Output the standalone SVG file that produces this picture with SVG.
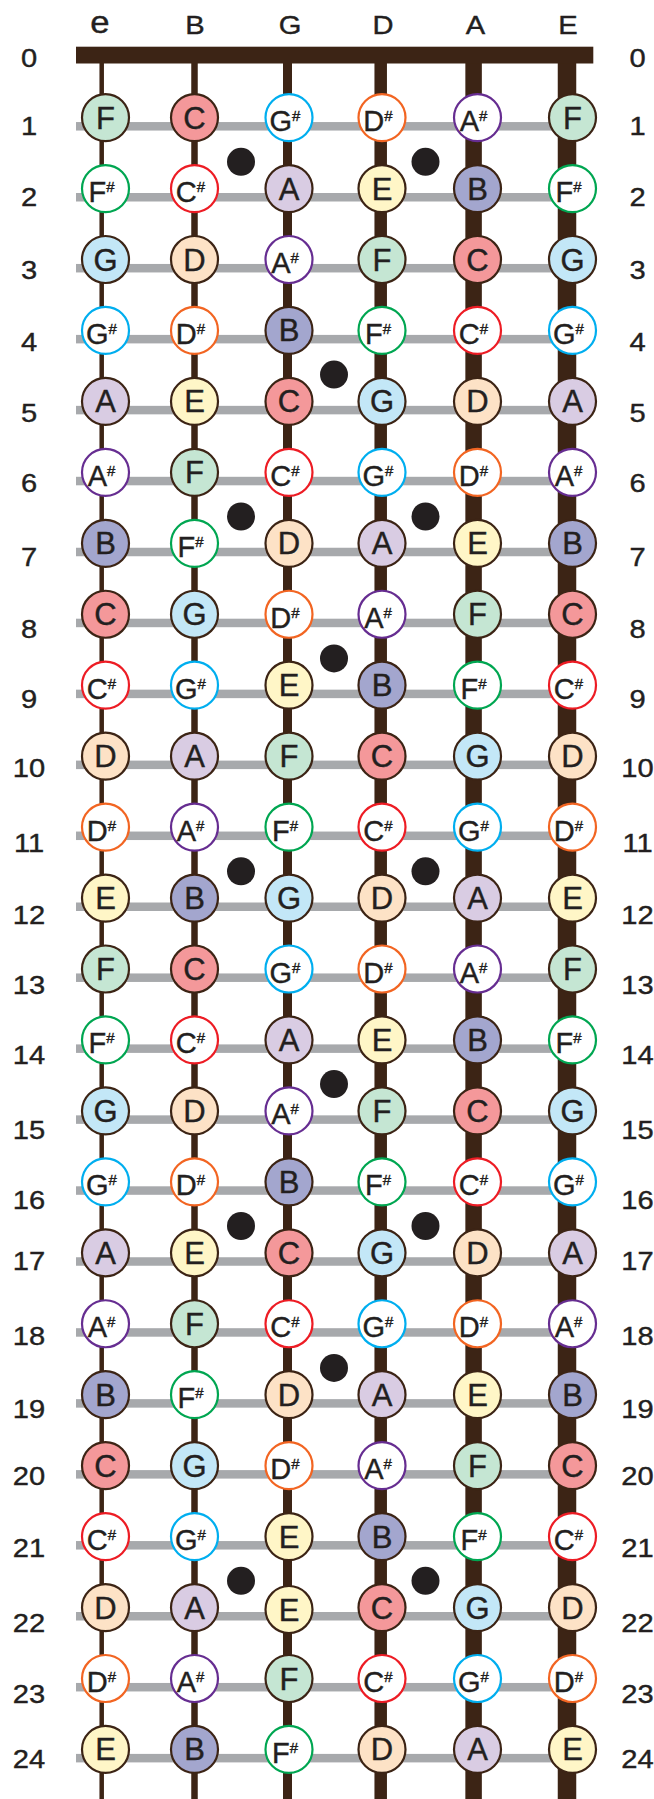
<svg xmlns="http://www.w3.org/2000/svg" width="654" height="1799" viewBox="0 0 654 1799">
<style>
.k{stroke-width:2.2px}
.nC{fill:#f4989a;stroke:#3c2415}
.nD{fill:#fde2c6;stroke:#3c2415}
.nE{fill:#fff6c7;stroke:#3c2415}
.nF{fill:#c5e6d3;stroke:#3c2415}
.nG{fill:#c3e7f7;stroke:#3c2415}
.nA{fill:#d9cce3;stroke:#3c2415}
.nB{fill:#a3a6ce;stroke:#3c2415}
.sC{fill:#fff;stroke:#ed1c24}
.sD{fill:#fff;stroke:#f26522}
.sF{fill:#fff;stroke:#00a651}
.sG{fill:#fff;stroke:#00aeef}
.sA{fill:#fff;stroke:#662d91}
.t,.u,.lab{font-family:"Liberation Sans",Arial,sans-serif;fill:#231f20;stroke:#231f20;stroke-width:0.4px;text-anchor:middle}
.t{font-size:31px}
.u{font-size:29px}
.h{font-size:15px}
.lab{font-size:26px;transform-box:fill-box;transform-origin:center;transform:scale(1.12,1)}
.le{font-size:31px}
</style>
<defs>
<circle id="c" r="23.5"/>
</defs>
<g id="labels">
<text class="lab le" x="100" y="33.5">e</text>
<text class="lab" x="195" y="34">B</text>
<text class="lab" x="290" y="34">G</text>
<text class="lab" x="383" y="34">D</text>
<text class="lab" x="475.5" y="34">A</text>
<text class="lab" x="568" y="34">E</text>
<text class="lab" x="29" y="67">0</text><text class="lab" x="637.5" y="67">0</text>
<text class="lab" x="29" y="135">1</text><text class="lab" x="637.5" y="135">1</text>
<text class="lab" x="29" y="206.5">2</text><text class="lab" x="637.5" y="206.5">2</text>
<text class="lab" x="29" y="279.5">3</text><text class="lab" x="637.5" y="279.5">3</text>
<text class="lab" x="29" y="351">4</text><text class="lab" x="637.5" y="351">4</text>
<text class="lab" x="29" y="422">5</text><text class="lab" x="637.5" y="422">5</text>
<text class="lab" x="29" y="492.5">6</text><text class="lab" x="637.5" y="492.5">6</text>
<text class="lab" x="29" y="566.5">7</text><text class="lab" x="637.5" y="566.5">7</text>
<text class="lab" x="29" y="638">8</text><text class="lab" x="637.5" y="638">8</text>
<text class="lab" x="29" y="708">9</text><text class="lab" x="637.5" y="708">9</text>
<text class="lab" x="29" y="777.5">10</text><text class="lab" x="637.5" y="777.5">10</text>
<text class="lab" x="29" y="852.5">11</text><text class="lab" x="637.5" y="852.5">11</text>
<text class="lab" x="29" y="924">12</text><text class="lab" x="637.5" y="924">12</text>
<text class="lab" x="29" y="994">13</text><text class="lab" x="637.5" y="994">13</text>
<text class="lab" x="29" y="1064">14</text><text class="lab" x="637.5" y="1064">14</text>
<text class="lab" x="29" y="1139.5">15</text><text class="lab" x="637.5" y="1139.5">15</text>
<text class="lab" x="29" y="1209.5">16</text><text class="lab" x="637.5" y="1209.5">16</text>
<text class="lab" x="29" y="1270.5">17</text><text class="lab" x="637.5" y="1270.5">17</text>
<text class="lab" x="29" y="1345.5">18</text><text class="lab" x="637.5" y="1345.5">18</text>
<text class="lab" x="29" y="1418">19</text><text class="lab" x="637.5" y="1418">19</text>
<text class="lab" x="29" y="1485.5">20</text><text class="lab" x="637.5" y="1485.5">20</text>
<text class="lab" x="29" y="1557.5">21</text><text class="lab" x="637.5" y="1557.5">21</text>
<text class="lab" x="29" y="1632.5">22</text><text class="lab" x="637.5" y="1632.5">22</text>
<text class="lab" x="29" y="1703">23</text><text class="lab" x="637.5" y="1703">23</text>
<text class="lab" x="29" y="1768">24</text><text class="lab" x="637.5" y="1768">24</text>
</g>
<g id="frets" fill="#a7a9ac">
<rect x="76" y="122.05" width="517" height="8.5"/>
<rect x="76" y="193" width="517" height="8.5"/>
<rect x="76" y="263.95" width="517" height="8.5"/>
<rect x="76" y="334.9" width="517" height="8.5"/>
<rect x="76" y="405.85" width="517" height="8.5"/>
<rect x="76" y="476.8" width="517" height="8.5"/>
<rect x="76" y="547.75" width="517" height="8.5"/>
<rect x="76" y="618.7" width="517" height="8.5"/>
<rect x="76" y="689.65" width="517" height="8.5"/>
<rect x="76" y="760.6" width="517" height="8.5"/>
<rect x="76" y="831.55" width="517" height="8.5"/>
<rect x="76" y="902.5" width="517" height="8.5"/>
<rect x="76" y="973.45" width="517" height="8.5"/>
<rect x="76" y="1044.4" width="517" height="8.5"/>
<rect x="76" y="1115.35" width="517" height="8.5"/>
<rect x="76" y="1186.3" width="517" height="8.5"/>
<rect x="76" y="1257.25" width="517" height="8.5"/>
<rect x="76" y="1328.2" width="517" height="8.5"/>
<rect x="76" y="1399.15" width="517" height="8.5"/>
<rect x="76" y="1470.1" width="517" height="8.5"/>
<rect x="76" y="1541.05" width="517" height="8.5"/>
<rect x="76" y="1612" width="517" height="8.5"/>
<rect x="76" y="1682.95" width="517" height="8.5"/>
<rect x="76" y="1753.9" width="517" height="8.5"/>
</g>
<g id="strings" stroke="#3c2415">
<line x1="101.7" y1="60" x2="101.7" y2="1799" stroke-width="4.5"/>
<line x1="194.5" y1="60" x2="194.5" y2="1799" stroke-width="6.5"/>
<line x1="287.5" y1="60" x2="287.5" y2="1799" stroke-width="9"/>
<line x1="380.7" y1="60" x2="380.7" y2="1799" stroke-width="12.5"/>
<line x1="473.6" y1="60" x2="473.6" y2="1799" stroke-width="16.5"/>
<line x1="567" y1="60" x2="567" y2="1799" stroke-width="18.5"/>
</g>
<rect id="nut" x="76" y="46.7" width="517.3" height="16.8" fill="#3c2415"/>
<g id="inlays" fill="#231f20">
<circle cx="241" cy="161.8" r="14"/><circle cx="425.5" cy="161.8" r="14"/>
<circle cx="334" cy="374.6" r="14"/>
<circle cx="241" cy="516.5" r="14"/><circle cx="425.5" cy="516.5" r="14"/>
<circle cx="334" cy="658.4" r="14"/>
<circle cx="241" cy="871.3" r="14"/><circle cx="425.5" cy="871.3" r="14"/>
<circle cx="334" cy="1084.1" r="14"/>
<circle cx="241" cy="1226" r="14"/><circle cx="425.5" cy="1226" r="14"/>
<circle cx="334" cy="1367.9" r="14"/>
<circle cx="241" cy="1580.8" r="14"/><circle cx="425.5" cy="1580.8" r="14"/>
</g>
<g id="connectors"></g>
<g id="notes">
<!-- fret 1 -->
<g id="n1-1" transform="translate(105.5 117.6)"><use href="#c" class="k nF"/><text class="t" y="11">F</text></g>
<g id="n1-2" transform="translate(194.5 117.6)"><use href="#c" class="k nC"/><text class="t" y="11">C</text></g>
<g id="n1-3" transform="translate(289 117.6)"><use href="#c" class="k sG"/><text class="u" x="-4" y="13.5">G<tspan class="h" dy="-10">#</tspan></text></g>
<g id="n1-4" transform="translate(382 117.6)"><use href="#c" class="k sD"/><text class="u" x="-4" y="13.5">D<tspan class="h" dy="-10">#</tspan></text></g>
<g id="n1-5" transform="translate(477.5 117.6)"><use href="#c" class="k sA"/><text class="u" x="-4" y="13.5">A<tspan class="h" dy="-10">#</tspan></text></g>
<g id="n1-6" transform="translate(572.5 117.6)"><use href="#c" class="k nF"/><text class="t" y="11">F</text></g>
<!-- fret 2 -->
<g id="n2-1" transform="translate(105.5 188.55)"><use href="#c" class="k sF"/><text class="u" x="-4" y="13.5">F<tspan class="h" dy="-10">#</tspan></text></g>
<g id="n2-2" transform="translate(194.5 188.55)"><use href="#c" class="k sC"/><text class="u" x="-4" y="13.5">C<tspan class="h" dy="-10">#</tspan></text></g>
<g id="n2-3" transform="translate(289 188.55)"><use href="#c" class="k nA"/><text class="t" y="11">A</text></g>
<g id="n2-4" transform="translate(382 188.55)"><use href="#c" class="k nE"/><text class="t" y="11">E</text></g>
<g id="n2-5" transform="translate(477.5 188.55)"><use href="#c" class="k nB"/><text class="t" y="11">B</text></g>
<g id="n2-6" transform="translate(572.5 188.55)"><use href="#c" class="k sF"/><text class="u" x="-4" y="13.5">F<tspan class="h" dy="-10">#</tspan></text></g>
<!-- fret 3 -->
<g id="n3-1" transform="translate(105.5 259.5)"><use href="#c" class="k nG"/><text class="t" y="11">G</text></g>
<g id="n3-2" transform="translate(194.5 259.5)"><use href="#c" class="k nD"/><text class="t" y="11">D</text></g>
<g id="n3-3" transform="translate(289 259.5)"><use href="#c" class="k sA"/><text class="u" x="-4" y="13.5">A<tspan class="h" dy="-10">#</tspan></text></g>
<g id="n3-4" transform="translate(382 259.5)"><use href="#c" class="k nF"/><text class="t" y="11">F</text></g>
<g id="n3-5" transform="translate(477.5 259.5)"><use href="#c" class="k nC"/><text class="t" y="11">C</text></g>
<g id="n3-6" transform="translate(572.5 259.5)"><use href="#c" class="k nG"/><text class="t" y="11">G</text></g>
<!-- fret 4 -->
<g id="n4-1" transform="translate(105.5 330.45)"><use href="#c" class="k sG"/><text class="u" x="-4" y="13.5">G<tspan class="h" dy="-10">#</tspan></text></g>
<g id="n4-2" transform="translate(194.5 330.45)"><use href="#c" class="k sD"/><text class="u" x="-4" y="13.5">D<tspan class="h" dy="-10">#</tspan></text></g>
<g id="n4-3" transform="translate(289 330.45)"><use href="#c" class="k nB"/><text class="t" y="11">B</text></g>
<g id="n4-4" transform="translate(382 330.45)"><use href="#c" class="k sF"/><text class="u" x="-4" y="13.5">F<tspan class="h" dy="-10">#</tspan></text></g>
<g id="n4-5" transform="translate(477.5 330.45)"><use href="#c" class="k sC"/><text class="u" x="-4" y="13.5">C<tspan class="h" dy="-10">#</tspan></text></g>
<g id="n4-6" transform="translate(572.5 330.45)"><use href="#c" class="k sG"/><text class="u" x="-4" y="13.5">G<tspan class="h" dy="-10">#</tspan></text></g>
<!-- fret 5 -->
<g id="n5-1" transform="translate(105.5 401.4)"><use href="#c" class="k nA"/><text class="t" y="11">A</text></g>
<g id="n5-2" transform="translate(194.5 401.4)"><use href="#c" class="k nE"/><text class="t" y="11">E</text></g>
<g id="n5-3" transform="translate(289 401.4)"><use href="#c" class="k nC"/><text class="t" y="11">C</text></g>
<g id="n5-4" transform="translate(382 401.4)"><use href="#c" class="k nG"/><text class="t" y="11">G</text></g>
<g id="n5-5" transform="translate(477.5 401.4)"><use href="#c" class="k nD"/><text class="t" y="11">D</text></g>
<g id="n5-6" transform="translate(572.5 401.4)"><use href="#c" class="k nA"/><text class="t" y="11">A</text></g>
<!-- fret 6 -->
<g id="n6-1" transform="translate(105.5 472.35)"><use href="#c" class="k sA"/><text class="u" x="-4" y="13.5">A<tspan class="h" dy="-10">#</tspan></text></g>
<g id="n6-2" transform="translate(194.5 472.35)"><use href="#c" class="k nF"/><text class="t" y="11">F</text></g>
<g id="n6-3" transform="translate(289 472.35)"><use href="#c" class="k sC"/><text class="u" x="-4" y="13.5">C<tspan class="h" dy="-10">#</tspan></text></g>
<g id="n6-4" transform="translate(382 472.35)"><use href="#c" class="k sG"/><text class="u" x="-4" y="13.5">G<tspan class="h" dy="-10">#</tspan></text></g>
<g id="n6-5" transform="translate(477.5 472.35)"><use href="#c" class="k sD"/><text class="u" x="-4" y="13.5">D<tspan class="h" dy="-10">#</tspan></text></g>
<g id="n6-6" transform="translate(572.5 472.35)"><use href="#c" class="k sA"/><text class="u" x="-4" y="13.5">A<tspan class="h" dy="-10">#</tspan></text></g>
<!-- fret 7 -->
<g id="n7-1" transform="translate(105.5 543.3)"><use href="#c" class="k nB"/><text class="t" y="11">B</text></g>
<g id="n7-2" transform="translate(194.5 543.3)"><use href="#c" class="k sF"/><text class="u" x="-4" y="13.5">F<tspan class="h" dy="-10">#</tspan></text></g>
<g id="n7-3" transform="translate(289 543.3)"><use href="#c" class="k nD"/><text class="t" y="11">D</text></g>
<g id="n7-4" transform="translate(382 543.3)"><use href="#c" class="k nA"/><text class="t" y="11">A</text></g>
<g id="n7-5" transform="translate(477.5 543.3)"><use href="#c" class="k nE"/><text class="t" y="11">E</text></g>
<g id="n7-6" transform="translate(572.5 543.3)"><use href="#c" class="k nB"/><text class="t" y="11">B</text></g>
<!-- fret 8 -->
<g id="n8-1" transform="translate(105.5 614.25)"><use href="#c" class="k nC"/><text class="t" y="11">C</text></g>
<g id="n8-2" transform="translate(194.5 614.25)"><use href="#c" class="k nG"/><text class="t" y="11">G</text></g>
<g id="n8-3" transform="translate(289 614.25)"><use href="#c" class="k sD"/><text class="u" x="-4" y="13.5">D<tspan class="h" dy="-10">#</tspan></text></g>
<g id="n8-4" transform="translate(382 614.25)"><use href="#c" class="k sA"/><text class="u" x="-4" y="13.5">A<tspan class="h" dy="-10">#</tspan></text></g>
<g id="n8-5" transform="translate(477.5 614.25)"><use href="#c" class="k nF"/><text class="t" y="11">F</text></g>
<g id="n8-6" transform="translate(572.5 614.25)"><use href="#c" class="k nC"/><text class="t" y="11">C</text></g>
<!-- fret 9 -->
<g id="n9-1" transform="translate(105.5 685.2)"><use href="#c" class="k sC"/><text class="u" x="-4" y="13.5">C<tspan class="h" dy="-10">#</tspan></text></g>
<g id="n9-2" transform="translate(194.5 685.2)"><use href="#c" class="k sG"/><text class="u" x="-4" y="13.5">G<tspan class="h" dy="-10">#</tspan></text></g>
<g id="n9-3" transform="translate(289 685.2)"><use href="#c" class="k nE"/><text class="t" y="11">E</text></g>
<g id="n9-4" transform="translate(382 685.2)"><use href="#c" class="k nB"/><text class="t" y="11">B</text></g>
<g id="n9-5" transform="translate(477.5 685.2)"><use href="#c" class="k sF"/><text class="u" x="-4" y="13.5">F<tspan class="h" dy="-10">#</tspan></text></g>
<g id="n9-6" transform="translate(572.5 685.2)"><use href="#c" class="k sC"/><text class="u" x="-4" y="13.5">C<tspan class="h" dy="-10">#</tspan></text></g>
<!-- fret 10 -->
<g id="n10-1" transform="translate(105.5 756.15)"><use href="#c" class="k nD"/><text class="t" y="11">D</text></g>
<g id="n10-2" transform="translate(194.5 756.15)"><use href="#c" class="k nA"/><text class="t" y="11">A</text></g>
<g id="n10-3" transform="translate(289 756.15)"><use href="#c" class="k nF"/><text class="t" y="11">F</text></g>
<g id="n10-4" transform="translate(382 756.15)"><use href="#c" class="k nC"/><text class="t" y="11">C</text></g>
<g id="n10-5" transform="translate(477.5 756.15)"><use href="#c" class="k nG"/><text class="t" y="11">G</text></g>
<g id="n10-6" transform="translate(572.5 756.15)"><use href="#c" class="k nD"/><text class="t" y="11">D</text></g>
<!-- fret 11 -->
<g id="n11-1" transform="translate(105.5 827.1)"><use href="#c" class="k sD"/><text class="u" x="-4" y="13.5">D<tspan class="h" dy="-10">#</tspan></text></g>
<g id="n11-2" transform="translate(194.5 827.1)"><use href="#c" class="k sA"/><text class="u" x="-4" y="13.5">A<tspan class="h" dy="-10">#</tspan></text></g>
<g id="n11-3" transform="translate(289 827.1)"><use href="#c" class="k sF"/><text class="u" x="-4" y="13.5">F<tspan class="h" dy="-10">#</tspan></text></g>
<g id="n11-4" transform="translate(382 827.1)"><use href="#c" class="k sC"/><text class="u" x="-4" y="13.5">C<tspan class="h" dy="-10">#</tspan></text></g>
<g id="n11-5" transform="translate(477.5 827.1)"><use href="#c" class="k sG"/><text class="u" x="-4" y="13.5">G<tspan class="h" dy="-10">#</tspan></text></g>
<g id="n11-6" transform="translate(572.5 827.1)"><use href="#c" class="k sD"/><text class="u" x="-4" y="13.5">D<tspan class="h" dy="-10">#</tspan></text></g>
<!-- fret 12 -->
<g id="n12-1" transform="translate(105.5 898.05)"><use href="#c" class="k nE"/><text class="t" y="11">E</text></g>
<g id="n12-2" transform="translate(194.5 898.05)"><use href="#c" class="k nB"/><text class="t" y="11">B</text></g>
<g id="n12-3" transform="translate(289 898.05)"><use href="#c" class="k nG"/><text class="t" y="11">G</text></g>
<g id="n12-4" transform="translate(382 898.05)"><use href="#c" class="k nD"/><text class="t" y="11">D</text></g>
<g id="n12-5" transform="translate(477.5 898.05)"><use href="#c" class="k nA"/><text class="t" y="11">A</text></g>
<g id="n12-6" transform="translate(572.5 898.05)"><use href="#c" class="k nE"/><text class="t" y="11">E</text></g>
<!-- fret 13 -->
<g id="n13-1" transform="translate(105.5 969)"><use href="#c" class="k nF"/><text class="t" y="11">F</text></g>
<g id="n13-2" transform="translate(194.5 969)"><use href="#c" class="k nC"/><text class="t" y="11">C</text></g>
<g id="n13-3" transform="translate(289 969)"><use href="#c" class="k sG"/><text class="u" x="-4" y="13.5">G<tspan class="h" dy="-10">#</tspan></text></g>
<g id="n13-4" transform="translate(382 969)"><use href="#c" class="k sD"/><text class="u" x="-4" y="13.5">D<tspan class="h" dy="-10">#</tspan></text></g>
<g id="n13-5" transform="translate(477.5 969)"><use href="#c" class="k sA"/><text class="u" x="-4" y="13.5">A<tspan class="h" dy="-10">#</tspan></text></g>
<g id="n13-6" transform="translate(572.5 969)"><use href="#c" class="k nF"/><text class="t" y="11">F</text></g>
<!-- fret 14 -->
<g id="n14-1" transform="translate(105.5 1039.95)"><use href="#c" class="k sF"/><text class="u" x="-4" y="13.5">F<tspan class="h" dy="-10">#</tspan></text></g>
<g id="n14-2" transform="translate(194.5 1039.95)"><use href="#c" class="k sC"/><text class="u" x="-4" y="13.5">C<tspan class="h" dy="-10">#</tspan></text></g>
<g id="n14-3" transform="translate(289 1039.95)"><use href="#c" class="k nA"/><text class="t" y="11">A</text></g>
<g id="n14-4" transform="translate(382 1039.95)"><use href="#c" class="k nE"/><text class="t" y="11">E</text></g>
<g id="n14-5" transform="translate(477.5 1039.95)"><use href="#c" class="k nB"/><text class="t" y="11">B</text></g>
<g id="n14-6" transform="translate(572.5 1039.95)"><use href="#c" class="k sF"/><text class="u" x="-4" y="13.5">F<tspan class="h" dy="-10">#</tspan></text></g>
<!-- fret 15 -->
<g id="n15-1" transform="translate(105.5 1110.9)"><use href="#c" class="k nG"/><text class="t" y="11">G</text></g>
<g id="n15-2" transform="translate(194.5 1110.9)"><use href="#c" class="k nD"/><text class="t" y="11">D</text></g>
<g id="n15-3" transform="translate(289 1110.9)"><use href="#c" class="k sA"/><text class="u" x="-4" y="13.5">A<tspan class="h" dy="-10">#</tspan></text></g>
<g id="n15-4" transform="translate(382 1110.9)"><use href="#c" class="k nF"/><text class="t" y="11">F</text></g>
<g id="n15-5" transform="translate(477.5 1110.9)"><use href="#c" class="k nC"/><text class="t" y="11">C</text></g>
<g id="n15-6" transform="translate(572.5 1110.9)"><use href="#c" class="k nG"/><text class="t" y="11">G</text></g>
<!-- fret 16 -->
<g id="n16-1" transform="translate(105.5 1181.85)"><use href="#c" class="k sG"/><text class="u" x="-4" y="13.5">G<tspan class="h" dy="-10">#</tspan></text></g>
<g id="n16-2" transform="translate(194.5 1181.85)"><use href="#c" class="k sD"/><text class="u" x="-4" y="13.5">D<tspan class="h" dy="-10">#</tspan></text></g>
<g id="n16-3" transform="translate(289 1181.85)"><use href="#c" class="k nB"/><text class="t" y="11">B</text></g>
<g id="n16-4" transform="translate(382 1181.85)"><use href="#c" class="k sF"/><text class="u" x="-4" y="13.5">F<tspan class="h" dy="-10">#</tspan></text></g>
<g id="n16-5" transform="translate(477.5 1181.85)"><use href="#c" class="k sC"/><text class="u" x="-4" y="13.5">C<tspan class="h" dy="-10">#</tspan></text></g>
<g id="n16-6" transform="translate(572.5 1181.85)"><use href="#c" class="k sG"/><text class="u" x="-4" y="13.5">G<tspan class="h" dy="-10">#</tspan></text></g>
<!-- fret 17 -->
<g id="n17-1" transform="translate(105.5 1252.8)"><use href="#c" class="k nA"/><text class="t" y="11">A</text></g>
<g id="n17-2" transform="translate(194.5 1252.8)"><use href="#c" class="k nE"/><text class="t" y="11">E</text></g>
<g id="n17-3" transform="translate(289 1252.8)"><use href="#c" class="k nC"/><text class="t" y="11">C</text></g>
<g id="n17-4" transform="translate(382 1252.8)"><use href="#c" class="k nG"/><text class="t" y="11">G</text></g>
<g id="n17-5" transform="translate(477.5 1252.8)"><use href="#c" class="k nD"/><text class="t" y="11">D</text></g>
<g id="n17-6" transform="translate(572.5 1252.8)"><use href="#c" class="k nA"/><text class="t" y="11">A</text></g>
<!-- fret 18 -->
<g id="n18-1" transform="translate(105.5 1323.75)"><use href="#c" class="k sA"/><text class="u" x="-4" y="13.5">A<tspan class="h" dy="-10">#</tspan></text></g>
<g id="n18-2" transform="translate(194.5 1323.75)"><use href="#c" class="k nF"/><text class="t" y="11">F</text></g>
<g id="n18-3" transform="translate(289 1323.75)"><use href="#c" class="k sC"/><text class="u" x="-4" y="13.5">C<tspan class="h" dy="-10">#</tspan></text></g>
<g id="n18-4" transform="translate(382 1323.75)"><use href="#c" class="k sG"/><text class="u" x="-4" y="13.5">G<tspan class="h" dy="-10">#</tspan></text></g>
<g id="n18-5" transform="translate(477.5 1323.75)"><use href="#c" class="k sD"/><text class="u" x="-4" y="13.5">D<tspan class="h" dy="-10">#</tspan></text></g>
<g id="n18-6" transform="translate(572.5 1323.75)"><use href="#c" class="k sA"/><text class="u" x="-4" y="13.5">A<tspan class="h" dy="-10">#</tspan></text></g>
<!-- fret 19 -->
<g id="n19-1" transform="translate(105.5 1394.7)"><use href="#c" class="k nB"/><text class="t" y="11">B</text></g>
<g id="n19-2" transform="translate(194.5 1394.7)"><use href="#c" class="k sF"/><text class="u" x="-4" y="13.5">F<tspan class="h" dy="-10">#</tspan></text></g>
<g id="n19-3" transform="translate(289 1394.7)"><use href="#c" class="k nD"/><text class="t" y="11">D</text></g>
<g id="n19-4" transform="translate(382 1394.7)"><use href="#c" class="k nA"/><text class="t" y="11">A</text></g>
<g id="n19-5" transform="translate(477.5 1394.7)"><use href="#c" class="k nE"/><text class="t" y="11">E</text></g>
<g id="n19-6" transform="translate(572.5 1394.7)"><use href="#c" class="k nB"/><text class="t" y="11">B</text></g>
<!-- fret 20 -->
<g id="n20-1" transform="translate(105.5 1465.65)"><use href="#c" class="k nC"/><text class="t" y="11">C</text></g>
<g id="n20-2" transform="translate(194.5 1465.65)"><use href="#c" class="k nG"/><text class="t" y="11">G</text></g>
<g id="n20-3" transform="translate(289 1465.65)"><use href="#c" class="k sD"/><text class="u" x="-4" y="13.5">D<tspan class="h" dy="-10">#</tspan></text></g>
<g id="n20-4" transform="translate(382 1465.65)"><use href="#c" class="k sA"/><text class="u" x="-4" y="13.5">A<tspan class="h" dy="-10">#</tspan></text></g>
<g id="n20-5" transform="translate(477.5 1465.65)"><use href="#c" class="k nF"/><text class="t" y="11">F</text></g>
<g id="n20-6" transform="translate(572.5 1465.65)"><use href="#c" class="k nC"/><text class="t" y="11">C</text></g>
<!-- fret 21 -->
<g id="n21-1" transform="translate(105.5 1536.6)"><use href="#c" class="k sC"/><text class="u" x="-4" y="13.5">C<tspan class="h" dy="-10">#</tspan></text></g>
<g id="n21-2" transform="translate(194.5 1536.6)"><use href="#c" class="k sG"/><text class="u" x="-4" y="13.5">G<tspan class="h" dy="-10">#</tspan></text></g>
<g id="n21-3" transform="translate(289 1536.6)"><use href="#c" class="k nE"/><text class="t" y="11">E</text></g>
<g id="n21-4" transform="translate(382 1536.6)"><use href="#c" class="k nB"/><text class="t" y="11">B</text></g>
<g id="n21-5" transform="translate(477.5 1536.6)"><use href="#c" class="k sF"/><text class="u" x="-4" y="13.5">F<tspan class="h" dy="-10">#</tspan></text></g>
<g id="n21-6" transform="translate(572.5 1536.6)"><use href="#c" class="k sC"/><text class="u" x="-4" y="13.5">C<tspan class="h" dy="-10">#</tspan></text></g>
<!-- fret 22 -->
<g id="n22-1" transform="translate(105.5 1607.55)"><use href="#c" class="k nD"/><text class="t" y="11">D</text></g>
<g id="n22-2" transform="translate(194.5 1607.55)"><use href="#c" class="k nA"/><text class="t" y="11">A</text></g>
<g id="n22-3" transform="translate(289 1609.5)"><use href="#c" class="k nE"/><text class="t" y="11">E</text></g>
<g id="n22-4" transform="translate(382 1607.55)"><use href="#c" class="k nC"/><text class="t" y="11">C</text></g>
<g id="n22-5" transform="translate(477.5 1607.55)"><use href="#c" class="k nG"/><text class="t" y="11">G</text></g>
<g id="n22-6" transform="translate(572.5 1607.55)"><use href="#c" class="k nD"/><text class="t" y="11">D</text></g>
<!-- fret 23 -->
<g id="n23-1" transform="translate(105.5 1678.5)"><use href="#c" class="k sD"/><text class="u" x="-4" y="13.5">D<tspan class="h" dy="-10">#</tspan></text></g>
<g id="n23-2" transform="translate(194.5 1678.5)"><use href="#c" class="k sA"/><text class="u" x="-4" y="13.5">A<tspan class="h" dy="-10">#</tspan></text></g>
<g id="n23-3" transform="translate(289 1678.5)"><use href="#c" class="k nF"/><text class="t" y="11">F</text></g>
<g id="n23-4" transform="translate(382 1678.5)"><use href="#c" class="k sC"/><text class="u" x="-4" y="13.5">C<tspan class="h" dy="-10">#</tspan></text></g>
<g id="n23-5" transform="translate(477.5 1678.5)"><use href="#c" class="k sG"/><text class="u" x="-4" y="13.5">G<tspan class="h" dy="-10">#</tspan></text></g>
<g id="n23-6" transform="translate(572.5 1678.5)"><use href="#c" class="k sD"/><text class="u" x="-4" y="13.5">D<tspan class="h" dy="-10">#</tspan></text></g>
<!-- fret 24 -->
<g id="n24-1" transform="translate(105.5 1749.45)"><use href="#c" class="k nE"/><text class="t" y="11">E</text></g>
<g id="n24-2" transform="translate(194.5 1749.45)"><use href="#c" class="k nB"/><text class="t" y="11">B</text></g>
<g id="n24-3" transform="translate(289 1749.45)"><use href="#c" class="k sF"/><text class="u" x="-4" y="13.5">F<tspan class="h" dy="-10">#</tspan></text></g>
<g id="n24-4" transform="translate(382 1749.45)"><use href="#c" class="k nD"/><text class="t" y="11">D</text></g>
<g id="n24-5" transform="translate(477.5 1749.45)"><use href="#c" class="k nA"/><text class="t" y="11">A</text></g>
<g id="n24-6" transform="translate(572.5 1749.45)"><use href="#c" class="k nE"/><text class="t" y="11">E</text></g>
</g>
</svg>
